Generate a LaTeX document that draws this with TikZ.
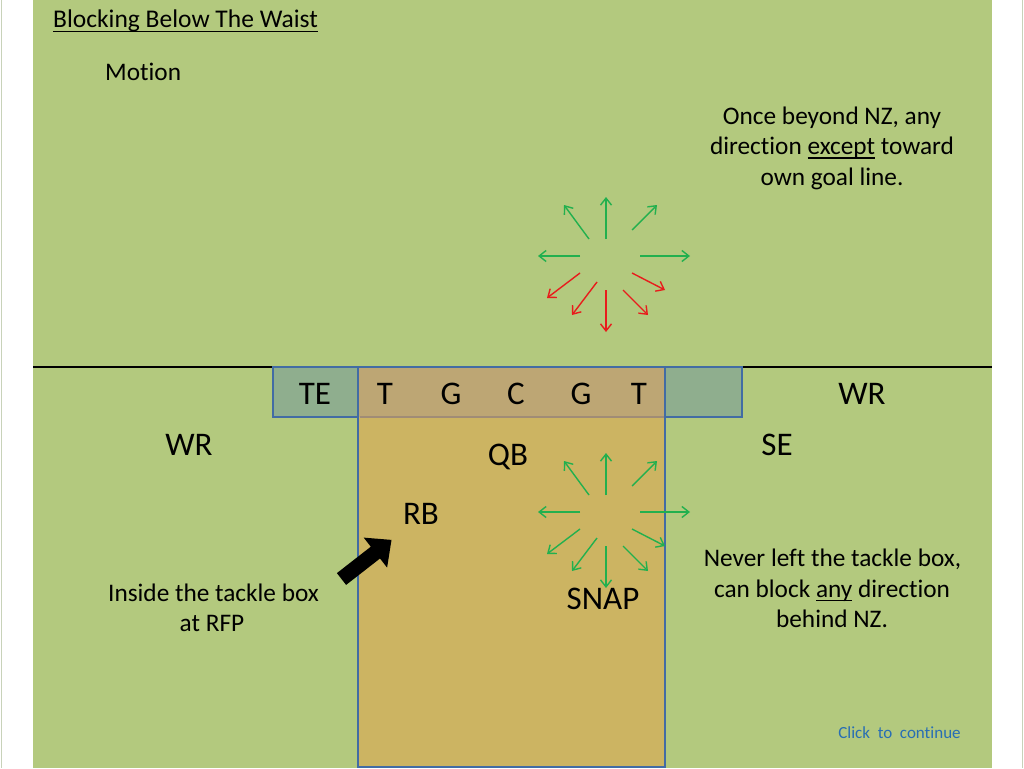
\documentclass[tikz,border=0pt]{standalone}
\usepackage{fontspec}
\setmainfont{Carlito}[Ligatures=NoCommon]
\usetikzlibrary{arrows.meta}
\definecolor{fieldgreen}{RGB}{179,201,126}
\definecolor{losfill}{RGB}{143,174,142}
\definecolor{midfill}{RGB}{189,166,116}
\definecolor{boxfill}{RGB}{204,180,98}
\definecolor{boxblue}{RGB}{66,108,164}
\definecolor{seam}{RGB}{160,140,118}
\definecolor{arrgreen}{RGB}{34,176,78}
\definecolor{arrred}{RGB}{232,28,28}
\definecolor{linkblue}{RGB}{40,110,180}
\definecolor{edgegray}{RGB}{200,210,185}
\newcommand\myul[1]{\setbox0=\hbox{#1}\rlap{\rule[-0.17em]{\wd0}{0.06em}}\box0\relax}
\tikzset{
  txt/.style={inner sep=0pt, anchor=base, font=\fontsize{25.3}{30}\selectfont},
  big/.style={inner sep=0pt, anchor=base, font=\fontsize{33}{40}\selectfont},
  dirarrow/.style={line width=1.4pt, -{Straight Barb[length=7pt,width=11pt,line width=1.4pt]}},
  goodarrow/.style={dirarrow, draw=arrgreen},
  badarrow/.style={dirarrow, draw=arrred},
  boxline/.style={draw=boxblue, line width=2.5pt},
}
\begin{document}
\begin{tikzpicture}[x=1pt,y=-1pt]
\fill[white] (0,0) rectangle (1024,768);
\useasboundingbox (0,0) rectangle (1024,768);
\fill[fieldgreen] (33,0) rectangle (992,768);
\draw[edgegray, line width=1pt] (1,0) -- (1,768);
\draw[edgegray, line width=1pt] (1022,0) -- (1022,768);
% line of scrimmage
\draw[black, line width=1.5pt] (33,367) -- (992,367);
% line of scrimmage box
\path[fill=losfill, boxline] (273,367) rectangle (742,417);
% tackle box
\fill[boxfill] (358,417) rectangle (665,767);
\fill[midfill] (358,367) rectangle (665,417);
\draw[seam, line width=2pt] (359.5,417) -- (663.5,417);
\draw[boxline] (358,367) rectangle (665,767);
% texts
\node[txt, anchor=base west, font=\fontsize{25.5}{30}\selectfont] (title) at (53,28) {\myul{Blocking Below The Waist}};
\node[txt, anchor=base west] (motion) at (105,80) {Motion};
\node[txt] (once1) at (832,124) {Once beyond NZ, any};
\node[txt] (once2) at (832,154.5) {direction \myul{except} toward};
\node[txt] (once3) at (832,185) {own goal line.};
\node[big] (te) at (315,404) {TE};
\node[big] (tl) at (385,404) {T};
\node[big] (gl) at (451,404) {G};
\node[big] (c) at (516,404) {C};
\node[big] (gr) at (581,404) {G};
\node[big] (tr) at (639,404) {T};
\node[big] (wrr) at (862,404) {WR};
\node[big] (wrl) at (189,455) {WR};
\node[big] (se) at (777,455) {SE};
\node[big] (qb) at (508,465) {QB};
\node[big] (rb) at (421,524) {RB};
\node[big] (snap) at (603,609) {SNAP};
\node[txt] (in1) at (213.5,601.7) {Inside the tackle box};
\node[txt] (in2) at (212,631.7) {at RFP};
\node[txt] (nv1) at (832.5,566.7) {Never left the tackle box,};
\node[txt] (nv2) at (832,597) {can block \myul{any} direction};
\node[txt] (nv3) at (832,627.3) {behind NZ.};
\node[inner sep=0pt, anchor=base, font=\fontsize{17}{20}\selectfont, text=linkblue] (click) at (899.5,738) {Click\ \ to\ \ continue};
% direction stars
\foreach \cy/\low in {256/badarrow, 512/goodarrow}{
  \begin{scope}[shift={(606,\cy)}]
    \draw[goodarrow] (0,-17) -- (0,-59);
    \draw[goodarrow] (-17,-17) -- (-42,-51);
    \draw[goodarrow] (26,-26) -- (51,-51);
    \draw[goodarrow] (-26,0) -- (-68,0);
    \draw[goodarrow] (34,0) -- (84,0);
    \draw[\low] (-26,17) -- (-59,42);
    \draw[\low] (-9,26) -- (-34,59);
    \draw[\low] (0,34) -- (0,76);
    \draw[\low] (17,34) -- (42,59);
    \draw[\low] (26,17) -- (59,34);
  \end{scope}
}
% block arrow pointing to RB
\fill[black] (336.9,573.1) -- (370.8,546.7) -- (363.7,537.6) -- (391.5,539.9)
  -- (387.1,567.6) -- (380.0,558.5) -- (346.1,584.9) -- cycle;
\end{tikzpicture}
\end{document}
